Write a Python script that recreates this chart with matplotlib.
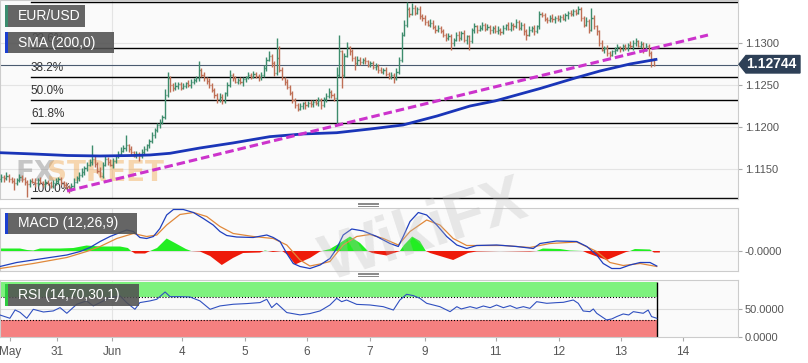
import matplotlib.pyplot as plt
import numpy as np
from matplotlib.patches import Rectangle, Polygon

W, H = 808, 363
plt.rcParams['font.family'] = ['Liberation Sans', 'DejaVu Sans']

# ---- price bars (hourly), index 0..251 ----
first_open = 1.1138
closes = [
    1.1141, 1.1139, 1.1142, 1.1138, 1.1136, 1.1133, 1.1137, 1.1140, 1.1138, 1.1134,
    1.1132, 1.1136, 1.1135, 1.1133, 1.1137, 1.1134, 1.1132, 1.1135, 1.1133, 1.1130,
    1.1133, 1.1136, 1.1138, 1.1134, 1.1131, 1.1129, 1.1126, 1.1130, 1.1135, 1.1139,
    1.1143, 1.1147, 1.1151, 1.1155, 1.1158, 1.1162, 1.1156, 1.1148, 1.1142, 1.1155,
    1.1162, 1.1158, 1.1155, 1.1160, 1.1165, 1.1168, 1.1172, 1.1175, 1.1178, 1.1174,
    1.1170, 1.1166, 1.1168, 1.1165, 1.1170, 1.1174, 1.1178, 1.1183, 1.1190, 1.1196,
    1.1202, 1.1206, 1.1212, 1.1238, 1.1258, 1.1250, 1.1246, 1.1249, 1.1251, 1.1247,
    1.1249, 1.1252, 1.1250, 1.1254, 1.1256, 1.1258, 1.1268, 1.1262, 1.1258, 1.1255,
    1.1250, 1.1244, 1.1238, 1.1233, 1.1236, 1.1231, 1.1240, 1.1250, 1.1262, 1.1258,
    1.1254, 1.1256, 1.1253, 1.1257, 1.1259, 1.1262, 1.1260, 1.1263, 1.1261, 1.1259,
    1.1262, 1.1270, 1.1280, 1.1285, 1.1276, 1.1264, 1.1282, 1.1268, 1.1258, 1.1254,
    1.1248, 1.1240, 1.1232, 1.1226, 1.1222, 1.1225, 1.1228, 1.1226, 1.1229, 1.1227,
    1.1230, 1.1228, 1.1232, 1.1226, 1.1233, 1.1237, 1.1242, 1.1238, 1.1234, 1.1262,
    1.1290, 1.1262, 1.1285, 1.1295, 1.1290, 1.1282, 1.1276, 1.1280, 1.1277, 1.1280,
    1.1278, 1.1274, 1.1276, 1.1271, 1.1273, 1.1268, 1.1266, 1.1268, 1.1263, 1.1260,
    1.1262, 1.1258, 1.1266, 1.1280, 1.1310, 1.1322, 1.1340, 1.1335, 1.1342, 1.1336,
    1.1340, 1.1332, 1.1330, 1.1325, 1.1322, 1.1324, 1.1319, 1.1316, 1.1318, 1.1314,
    1.1310, 1.1306, 1.1308, 1.1300, 1.1304, 1.1310, 1.1306, 1.1312, 1.1303, 1.1308,
    1.1302, 1.1315, 1.1320, 1.1316, 1.1318, 1.1322, 1.1317, 1.1319, 1.1315, 1.1318,
    1.1314, 1.1316, 1.1313, 1.1318, 1.1321, 1.1317, 1.1322, 1.1320, 1.1325, 1.1318,
    1.1322, 1.1314, 1.1310, 1.1316, 1.1318, 1.1314, 1.1320, 1.1335, 1.1333, 1.1329,
    1.1327, 1.1330, 1.1328, 1.1330, 1.1328, 1.1331, 1.1329, 1.1333, 1.1336, 1.1334,
    1.1338, 1.1336, 1.1340, 1.1330, 1.1322, 1.1326, 1.1316, 1.1330, 1.1320, 1.1314,
    1.1300, 1.1292, 1.1294, 1.1288, 1.1286, 1.1290, 1.1292, 1.1295, 1.1293, 1.1296,
    1.1294, 1.1298, 1.1296, 1.1300, 1.1302, 1.1297, 1.1299, 1.1292, 1.1296, 1.1288,
    1.1280, 1.12744,
]
# wick lengths in pips beyond the bar body
up_wick = [
    3, 2, 4, 2, 3, 3, 2, 4, 3, 2,  3, 2, 3, 4, 2, 3, 2, 3, 2, 3,
    4, 3, 2, 3, 2, 3, 2, 3, 4, 3,  3, 4, 2, 3, 4, 16, 3, 2, 4, 3,
    3, 2, 4, 3, 2, 3, 4, 3, 12, 2,  3, 2, 3, 2, 4, 3, 2, 3, 4, 3,
    3, 4, 2, 7, 7, 3, 2, 4, 3, 2,  3, 2, 4, 3, 2, 3, 11, 2, 3, 2,
    3, 2, 3, 2, 4, 3, 2, 3, 6, 2,  3, 2, 4, 3, 2, 3, 2, 4, 3, 2,
    3, 4, 3, 5, 2, 3, 24, 14, 3, 2,  3, 2, 3, 2, 3, 4, 2, 3, 2, 3,
    2, 3, 4, 2, 3, 3, 4, 2, 3, 10,  20, 2, 3, 6, 2, 3, 2, 4, 3, 2,
    3, 2, 3, 2, 3, 2, 3, 2, 3, 2,  3, 2, 4, 3, 3, 5, 9, 3, 6, 3,
    3, 4, 2, 3, 2, 4, 3, 2, 3, 2,  3, 2, 4, 3, 2, 3, 4, 2, 3, 2,
    2, 3, 4, 2, 3, 3, 2, 4, 3, 2,  3, 4, 2, 3, 2, 4, 3, 2, 3, 2,
    3, 2, 3, 4, 2, 3, 2, 3, 2, 3,  2, 3, 4, 2, 3, 2, 4, 3, 2, 3,
    3, 2, 4, 3, 2, 5, 3, 12, 3, 2,  2, 3, 2, 4, 3, 2, 3, 4, 2, 3,
    3, 2, 4, 3, 4, 2, 3, 2, 4, 3,  3, 2,
]
dn_wick = [
    3, 4, 2, 3, 3, 8, 2, 3, 4, 3,  15, 3, 2, 4, 3, 2, 3, 4, 2, 3,
    3, 2, 4, 3, 2, 3, 4, 2, 3, 2,  3, 2, 4, 3, 2, 3, 4, 3, 2, 3,
    2, 3, 2, 4, 3, 2, 3, 2, 3, 4,  3, 2, 3, 5, 2, 3, 2, 3, 2, 3,
    2, 3, 2, 3, 2, 8, 3, 2, 4, 3,  2, 3, 2, 4, 3, 2, 3, 2, 3, 4,
    3, 2, 4, 5, 3, 4, 2, 3, 2, 3,  2, 3, 2, 4, 3, 2, 3, 2, 3, 4,
    3, 2, 3, 2, 4, 3, 2, 3, 2, 4,  3, 2, 4, 3, 3, 2, 3, 4, 2, 3,
    3, 2, 3, 5, 2, 3, 2, 4, 3, 32,  2, 16, 3, 2, 4, 3, 8, 2, 3, 2,
    3, 2, 3, 2, 3, 4, 2, 3, 2, 3,  3, 6, 2, 3, 3, 2, 3, 4, 2, 3,
    2, 3, 4, 3, 2, 3, 2, 4, 3, 2,  3, 4, 2, 8, 3, 2, 4, 3, 2, 4,
    10, 2, 3, 4, 2, 3, 3, 2, 4, 3,  2, 3, 4, 2, 3, 2, 3, 4, 2, 3,
    3, 4, 6, 2, 3, 4, 2, 3, 2, 3,  3, 2, 3, 4, 2, 3, 2, 3, 4, 2,
    2, 3, 2, 4, 3, 2, 4, 2, 3, 4,  3, 2, 4, 3, 3, 2, 3, 2, 4, 3,
    2, 3, 2, 4, 3, 2, 3, 4, 2, 3,  8, 2,
]

# SMA(200) samples (bar index, price)
sma_x = [-0.5, 12.2, 25.3, 38, 50.7, 57.2, 64.9, 76.4, 89.1, 103.3, 116, 129,
         141.8, 154.5, 167.6, 180.3, 189.9, 207.2, 220.7, 230.3, 241.8, 251.8]
sma_y = [1.11694, 1.11679, 1.11661, 1.11655, 1.11661, 1.11667, 1.11687, 1.1175,
         1.1181, 1.11885, 1.11917, 1.11932, 1.11976, 1.12024, 1.12131, 1.1225,
         1.1231, 1.12458, 1.12583, 1.12667, 1.1275, 1.12804]

trend_x = [25.3, 271.8]
trend_y = [1.11238, 1.13095]

fib_high, fib_low = 1.1349, 1.1116
fib_start = 11.4
fib_levels = [0.0, 0.236, 0.382, 0.5, 0.618, 1.0]
fib_labels = ['0.0%', '23.6%', '38.2%', '50.0%', '61.8%', '100.0%']
last_price = 1.12744
price_ticks = [1.1150, 1.1200, 1.1250, 1.1300]

# MACD (12,26,9)
macd_x = [-0.5, 5.9, 12.3, 18.7, 25.2, 30.3, 34.1, 38, 41.8, 45.7, 48.2, 50.8, 53.3,
          55.9, 58.5, 61, 63.6, 66.2, 70, 73.9, 77.7, 81.5, 84.1, 86.7, 90.5, 96.9,
          102.1, 104.6, 107.2, 109.8, 112.3, 114.9, 118.7, 122.6, 126.4, 129, 131.5,
          134.8, 139.2, 144.4, 149.5, 152.7, 154.6, 157.2, 160.4, 163.6, 167.5, 171.3,
          175.2, 179, 182.8, 190.5, 198.2, 204.6, 207.2, 213.6, 221.3, 225.2, 229,
          231.5, 234.8, 238, 241.8, 245.7, 249.5, 252.1]
macd_line = [-0.00031, -0.00023, -0.00018, -0.00013, -0.00008, -0.00001, 0.00007,
             0.00019, 0.00029, 0.00037, 0.00042, 0.00039, 0.00027, 0.00025, 0.00029,
             0.00045, 0.00072, 0.00083, 0.00083, 0.00077, 0.00065, 0.00052, 0.00039,
             0.00031, 0.00028, 0.00027, 0.00032, 0.00027, 0.00019, -0.00005, -0.00025,
             -0.00031, -0.00035, -0.00028, -0.00015, 0.00005, 0.00032, 0.00044, 0.0004,
             0.00029, 0.00015, 0.00009, 0.00029, 0.00059, 0.00077, 0.00072, 0.00052,
             0.00029, 0.00012, 0.00005, 0.00011, 0.00012, 0.00009, 0.00005, 0.00015,
             0.0002, 0.00019, 0.00009, -0.00008, -0.00025, -0.00035, -0.00035,
             -0.00028, -0.00023, -0.00023, -0.0003]
sig_x = [-0.5, 12.3, 25.2, 32.8, 38, 44.4, 50.8, 55.9, 59.8, 63.6, 68.7, 73.9, 79,
         84.1, 89.2, 96.9, 104.6, 109.8, 114.9, 118.7, 122.6, 126.4, 131.5, 136.7,
         141.8, 146.9, 152.7, 157.2, 163.6, 168.7, 173.8, 179, 184.1, 193.1, 203.3,
         211, 221.3, 229, 234.1, 239.2, 245.7, 252.1]
signal = [-0.00035, -0.00025, -0.00013, -0.00001, 0.00009, 0.00025, 0.00035, 0.00029,
          0.00032, 0.00052, 0.00073, 0.00077, 0.00069, 0.00049, 0.00035, 0.00029,
          0.00025, 0.00012, -0.00018, -0.0003, -0.00026, -0.00021, 0.00012, 0.00029,
          0.00033, 0.00025, 0.00012, 0.00039, 0.00062, 0.00052, 0.00025, 0.00011,
          0.00011, 0.00011, 0.00007, 0.00015, 0.00018, -0.00001, -0.00023, -0.00029,
          -0.00025, -0.00031]
hist_x = [-0.5, 7.2, 9.9, 12.3, 14.9, 22.6, 27.7, 32.8, 38, 45.7, 48.7, 49.9, 51.4,
          55.3, 57.2, 59.9, 63.6, 66.8, 71, 73, 76.4, 80.3, 84.8, 89.1, 93, 99.5,
          101.4, 104.5, 108, 110.3, 113, 118.7, 122.6, 126.4, 129, 134.1, 138, 141,
          142.6, 148.2, 153.3, 154.9, 158, 161, 163.3, 164.9, 173.8, 179.5, 182.8,
          191.8, 203.3, 205.9, 208.3, 214.9, 218.7, 223.7, 225.3, 232.8, 240.3,
          241.8, 243.7, 249.5, 250.3, 251, 253.3]
hist = [0.00005, 0.00005, 0.00002, 0.00001, 0.00005, 0.00005, 0.00006, 0.00011,
        0.00009, 0.00009, 0.00006, 0, -0.00005, -0.00005, 0, 0.00006, 0.00025,
        0.00016, 0.00004, 0, -0.00001, -0.0001, -0.00028, -0.00014, -0.00004,
        -0.00003, 0.00001, -0.00002, 0, -0.00008, -0.00027, -0.00014, -0.00001,
        0.00004, 0.00012, 0.00029, 0.00016, 0, -0.00004, -0.00009, 0, 0.00012,
        0.00029, 0.0002, 0, -0.00004, -0.00018, -0.00004, -0.00001, 0, -0.00001,
        0, 0.00005, 0.00004, 0.00001, 0, -0.00004, -0.00018, -0.00002, 0, 0.00004,
        0.00003, 0, -0.00003, -0.00003]

# RSI (14,70,30,1)
rsi_x = [-0.5, 3.3, 5.3, 7.2, 9.8, 12.3, 16.2, 20, 22.6, 25.2, 29, 32.8, 35.4, 38,
         41.8, 45.7, 48.2, 51.4, 53.3, 57.2, 59.8, 63, 64.9, 68.7, 72.6, 76.4, 80.3,
         84.1, 89.2, 94.4, 99.5, 102.1, 104, 105.9, 109.8, 114.9, 118.7, 122.6, 126.4,
         129, 130.9, 132.8, 136.7, 141.8, 146.9, 150.8, 153.3, 155.9, 158.5, 161,
         163.6, 168.7, 172.6, 175.2, 176.9, 180.3, 182.8, 185.4, 188, 190.5, 193.1,
         195.7, 198.2, 200.8, 203.3, 205.9, 209.8, 213.6, 216.2, 220, 221.9, 223.8,
         226.4, 227.7, 229, 232.8, 234.8, 236.7, 239.2, 241.3, 243.1, 246.9, 248.8,
         250.1, 252.1]
rsi = [38.7, 32.9, 47.7, 43.5, 32.9, 48.9, 44.1, 46, 51.9, 41.8, 57.9, 63.9, 55, 60.9,
       69.8, 72.7, 60.9, 48.9, 60.9, 63.9, 66.8, 79.8, 71.5, 71.5, 70.9, 63.9, 48.9,
       54.9, 57.9, 59.1, 60.9, 66.8, 51.9, 59.7, 43.1, 38.9, 41.3, 46, 56.6, 68.5,
       62.5, 65.5, 57.7, 56.6, 53.6, 47.6, 65.5, 75.7, 73.3, 68.5, 59.6, 53.6, 44.7,
       53.6, 49.5, 53.6, 50.6, 54.8, 51.8, 56.6, 51.8, 55.4, 50.6, 53.6, 50.6, 62.5,
       59.6, 60.8, 61.4, 65.5, 59.6, 45.9, 44.7, 49.5, 41.8, 29.9, 31.7, 35.9, 40.6,
       38.8, 44.7, 41.8, 47.6, 35.9, 32.9]

date_pos = [3.3, 21.4, 42.6, 69.5, 93.7, 117.6, 141.8, 163, 190.1, 214.5, 238.3, 262.2]
date_labels = ['May', '31', 'Jun', '4', '5', '6', '7', '9', '11', '12', '13', '14']

UP, DOWN = '#3d8c6c', '#bf6f55'
XLIM = (-0.5, 283.35)

fig = plt.figure(figsize=(W / 100, H / 100), dpi=100)


def px_axes(x0, y0, x1, y1):
    return fig.add_axes([x0 / W, 1 - y1 / H, (x1 - x0) / W, (y1 - y0) / H])


def style(ax):
    ax.set_facecolor('#fafafa')
    for s in ax.spines.values():
        s.set_color('#cccccc')
        s.set_linewidth(0.8)
    ax.yaxis.tick_right()
    ax.tick_params(axis='y', colors='#aaaaaa', labelcolor='#555555', labelsize=8,
                   length=3, pad=2)
    ax.set_xlim(*XLIM)
    ax.axvline(42.6, color='#e4e4e4', lw=0.8, zorder=0)


main = px_axes(0, 0, 738, 198.7)
macd = px_axes(0, 208.3, 738, 270.7)
rsi_ax = px_axes(0, 280, 738, 336.7)
for a in (main, macd, rsi_ax):
    style(a)

# ---- main price panel ----
main.set_ylim(1.111464, 1.135119)
main.set_yticks(price_ticks)
main.set_yticklabels([f'{t:.4f}' for t in price_ticks])
main.set_xticks([])
for t in price_ticks:
    main.axhline(t, color='#e4e4e4', lw=0.8, zorder=0)

x = np.arange(len(closes))
c = np.array(closes)
o = np.array([first_open] + closes[:-1])
hi = np.maximum(o, c) + np.array(up_wick) * 0.0001
lo = np.minimum(o, c) - np.array(dn_wick) * 0.0001
cols = [UP if cc >= oo else DOWN for oo, cc in zip(o, c)]
main.vlines(x, lo, hi, colors=cols, lw=1.0, zorder=3)
main.hlines(o, x - 0.45, x, colors=cols, lw=1.0, zorder=3)
main.hlines(c, x, x + 0.45, colors=cols, lw=1.0, zorder=3)

for lv, lab in zip(fib_levels, fib_labels):
    p = fib_high - lv * (fib_high - fib_low)
    main.plot([fib_start, XLIM[1]], [p, p], color='black', lw=1.0, zorder=2)
    main.annotate(lab, (fib_start, p), xytext=(0, 2), textcoords='offset points',
                  fontsize=8.5, color='#333333', va='bottom', ha='left', zorder=2,
                  annotation_clip=False, clip_on=True)

main.axhline(last_price, color='#4a5a70', lw=0.8, zorder=2)
main.plot(sma_x, sma_y, color='#1a35b8', lw=2.0, zorder=4)
main.plot(trend_x, trend_y, color='#cc33cc', lw=2.2, dashes=(2.8, 1.3), zorder=5)

# FXStreet watermark
main.text(15 / 738, 1 - 181 / 198.7, 'FX', transform=main.transAxes, fontsize=20,
          family=['Liberation Sans Narrow', 'DejaVu Sans'], weight='bold',
          color='#888888', alpha=0.45, zorder=1)
main.text(47 / 738, 1 - 181 / 198.7, 'STREET', transform=main.transAxes, fontsize=20,
          family=['Liberation Sans Narrow', 'DejaVu Sans'], weight='bold',
          color='#f0a040', alpha=0.4, zorder=1)

# ---- MACD ----
macd.set_ylim(-0.000394, 0.000854)
macd.set_yticks([0])
macd.set_yticklabels(['-0.0000'])
macd.set_xticks([])
macd.axhline(0, color='#dddddd', lw=0.8, zorder=0)
hx = np.array(hist_x)
hv = np.array(hist)
macd.fill_between(hx, 0, hv, where=hv >= 0, color='#22ee22', interpolate=True, lw=0, zorder=2)
macd.fill_between(hx, 0, hv, where=hv <= 0, color='#ee1a0a', interpolate=True, lw=0, zorder=2)
macd.plot(sig_x, signal, color='#e0883a', lw=0.9, zorder=3)
macd.plot(macd_x, macd_line, color='#1f3fbf', lw=0.9, zorder=4)

# ---- RSI ----
rsi_ax.set_ylim(0, 101.2)
rsi_ax.set_yticks([0, 50])
rsi_ax.set_yticklabels(['0.0000', '50.0000'])
rsi_ax.axhline(50, color='#dddddd', lw=0.8, zorder=0)
band_end = 252.2
rsi_ax.fill_between([XLIM[0], band_end], 70, 98, color='#7ef27e', lw=0, zorder=1)
rsi_ax.fill_between([XLIM[0], band_end], 0, 30, color='#f58080', lw=0, zorder=1)
rsi_ax.hlines([70, 30], XLIM[0], band_end, colors='black', lw=0.8, linestyles=':', zorder=2)
rsi_ax.vlines(band_end, 0, 98, colors='black', lw=1.0, zorder=2)
rsi_ax.plot(rsi_x, rsi, color='#3050c0', lw=0.8, zorder=3)
rsi_ax.set_xticks(date_pos)
rsi_ax.set_xticklabels(date_labels)
rsi_ax.tick_params(axis='x', colors='#aaaaaa', labelcolor='#555555', labelsize=8.5,
                   length=3, pad=4)


# ---- overlay labels (figure pixel coordinates) ----
def fx(px):
    return px / W


def fy(py):
    return 1 - py / H


def tag(x0, y0, x1, y1, text, stripe):
    fig.patches.append(Rectangle((fx(x0), fy(y1)), (x1 - x0) / W, (y1 - y0) / H,
                                 transform=fig.transFigure, color='#505050', alpha=0.88,
                                 lw=0, zorder=10))
    fig.patches.append(Rectangle((fx(x0), fy(y1)), 2.5 / W, (y1 - y0) / H,
                                 transform=fig.transFigure, color=stripe, lw=0, zorder=11))
    fig.text(fx(x0 + 13), fy((y0 + y1) / 2), text, color='white', fontsize=10,
             va='center', ha='left', zorder=12)


tag(5, 5, 85, 27, 'EUR/USD', '#3b8c6e')
tag(5, 32, 114, 53, 'SMA (200,0)', '#1c3fd0')
tag(5, 213, 137, 234, 'MACD (12,26,9)', '#1c3fd0')
tag(5, 284, 139, 306, 'RSI (14,70,30,1)', '#2ecc40')

# last price marker
fig.patches.append(Polygon([(fx(739), fy(64.3)), (fx(746), fy(55.5)), (fx(800), fy(55.5)),
                            (fx(800), fy(73)), (fx(746), fy(73))],
                           closed=True, transform=fig.transFigure, color='#2e4057', zorder=10))
fig.text(fx(771.5), fy(64.5), f'{last_price:.5f}', color='white', fontsize=10,
         weight='bold', ha='center', va='center', zorder=12)

# panel resize handles
for yc in (204.2, 274.4):
    for dy in (-1.5, 0, 1.5):
        fig.add_artist(plt.Line2D([fx(358), fx(378)], [fy(yc + dy), fy(yc + dy)],
                                  transform=fig.transFigure, color='#888888', lw=0.7))

# WikiFX watermark
fig.text(fx(425), fy(232), 'WikiFX', fontsize=46, weight='bold', color='#bbbbbb',
         alpha=0.3, rotation=18, ha='center', va='center', zorder=9)

fig.savefig('out.png', dpi=100)
